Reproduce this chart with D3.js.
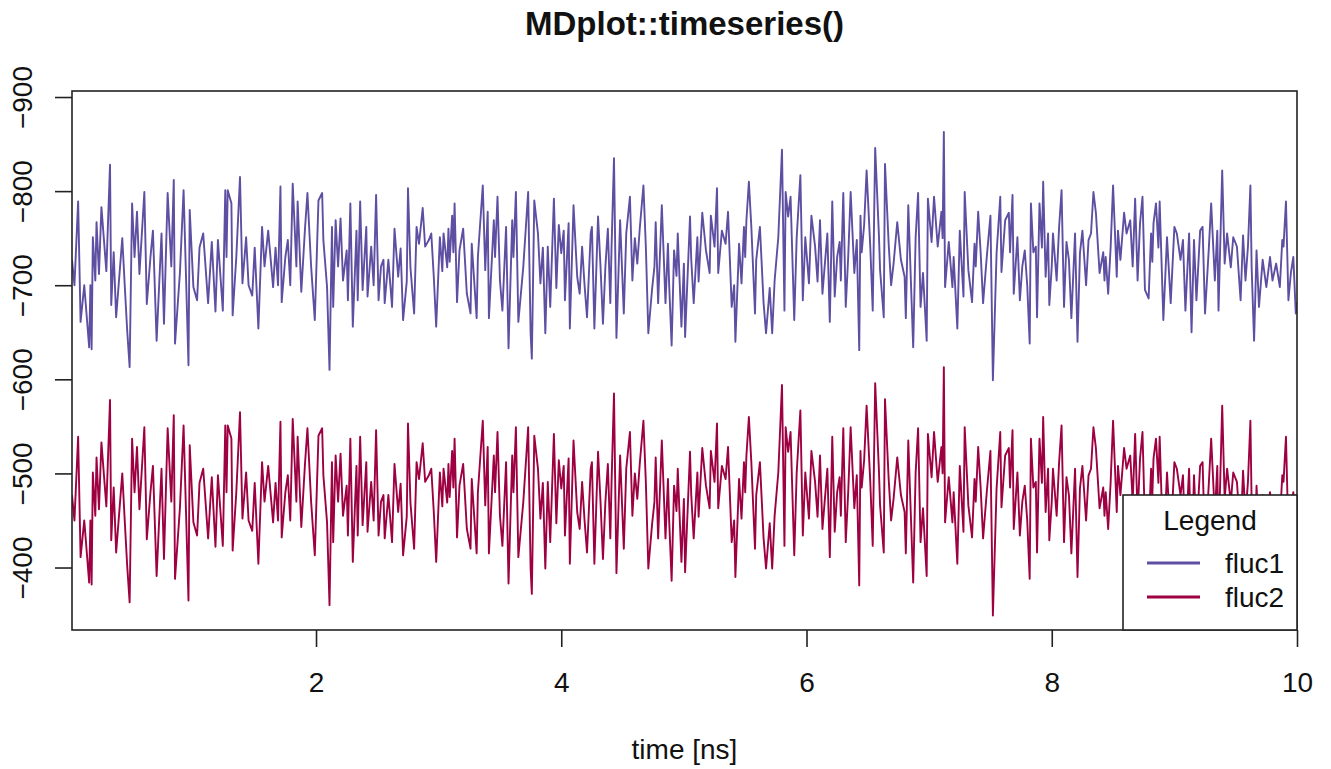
<!DOCTYPE html>
<html>
<head>
	<meta charset="utf-8">
	<title>MDplot::timeseries()</title>
	<script type="text/javascript" src="https://cdn.jsdelivr.net/npm/d3@7/dist/d3.min.js"></script>
	<style>
		body { margin: 0; background: #fff; }
		text { font-family: "Liberation Sans", Arial, Helvetica, sans-serif; fill: #111; }
	</style>
</head>
<body>
	<div id="chart"></div>
	<script type="text/javascript">
		// time axis [ns], shared by both series
		var time = [
			0.01,0.03,0.06,0.08,0.11,0.15,0.16,0.17,0.18,0.20,
			0.21,0.23,0.25,0.29,0.32,0.33,0.35,0.37,0.42,0.44,
			0.46,0.48,0.50,0.52,0.54,0.56,0.60,0.62,0.65,0.67,
			0.70,0.74,0.76,0.79,0.82,0.84,0.85,0.89,0.92,0.96,
			0.97,1.00,1.03,1.05,1.08,1.12,1.15,1.18,1.20,1.24,
			1.26,1.27,1.28,1.31,1.32,1.35,1.38,1.40,1.43,1.45,
			1.48,1.50,1.53,1.56,1.58,1.61,1.65,1.67,1.69,1.71,
			1.72,1.75,1.77,1.79,1.81,1.84,1.85,1.88,1.91,1.93,
			1.96,1.99,2.02,2.05,2.06,2.09,2.11,2.13,2.14,2.16,
			2.18,2.20,2.22,2.25,2.26,2.28,2.30,2.33,2.34,2.36,
			2.38,2.41,2.42,2.45,2.47,2.49,2.51,2.53,2.55,2.56,
			2.59,2.62,2.64,2.67,2.69,2.71,2.74,2.75,2.77,2.80,
			2.82,2.84,2.87,2.89,2.92,2.94,2.96,2.98,3.01,3.03,
			3.04,3.07,3.08,3.09,3.11,3.12,3.13,3.15,3.17,3.20,
			3.23,3.26,3.27,3.31,3.32,3.36,3.38,3.40,3.41,3.45,
			3.46,3.48,3.50,3.52,3.55,3.57,3.60,3.61,3.63,3.65,
			3.69,3.73,3.75,3.76,3.78,3.81,3.83,3.85,3.87,3.89,
			3.91,3.94,3.96,3.98,4.00,4.02,4.03,4.06,4.07,4.10,
			4.13,4.15,4.17,4.19,4.21,4.24,4.25,4.27,4.30,4.32,
			4.34,4.36,4.38,4.40,4.41,4.43,4.45,4.48,4.51,4.53,
			4.56,4.58,4.60,4.62,4.64,4.67,4.69,4.71,4.74,4.76,
			4.77,4.79,4.82,4.85,4.87,4.88,4.90,4.92,4.94,4.95,
			4.98,5.00,5.01,5.05,5.06,5.08,5.11,5.12,5.15,5.18,
			5.21,5.22,5.25,5.27,5.28,5.31,5.34,5.36,5.39,5.41,
			5.42,5.45,5.47,5.49,5.50,5.51,5.53,5.55,5.58,5.59,
			5.62,5.65,5.67,5.70,5.72,5.74,5.77,5.80,5.82,5.83,
			5.85,5.87,5.90,5.92,5.95,5.97,5.99,6.02,6.04,6.07,
			6.09,6.11,6.13,6.17,6.19,6.21,6.23,6.25,6.27,6.28,
			6.30,6.32,6.34,6.36,6.39,6.41,6.43,6.44,6.45,6.47,
			6.49,6.52,6.54,6.56,6.59,6.60,6.63,6.64,6.67,6.69,
			6.71,6.74,6.77,6.80,6.81,6.83,6.85,6.87,6.89,6.91,
			6.93,6.95,6.98,6.99,7.02,7.04,7.07,7.10,7.11,7.12,
			7.13,7.16,7.19,7.20,7.23,7.25,7.28,7.29,7.32,7.35,
			7.37,7.38,7.40,7.42,7.44,7.47,7.50,7.52,7.55,7.58,
			7.59,7.62,7.65,7.66,7.68,7.69,7.72,7.74,7.76,7.78,
			7.80,7.82,7.83,7.85,7.87,7.88,7.90,7.92,7.93,7.95,
			7.97,7.98,8.00,8.01,8.04,8.06,8.08,8.10,8.12,8.14,
			8.16,8.19,8.21,8.23,8.25,8.28,8.30,8.32,8.34,8.36,
			8.39,8.42,8.43,8.44,8.46,8.48,8.50,8.53,8.54,8.56,
			8.59,8.61,8.64,8.66,8.68,8.70,8.72,8.74,8.76,8.79,
			8.81,8.82,8.83,8.85,8.87,8.88,8.91,8.94,8.97,9.00,
			9.02,9.05,9.07,9.09,9.12,9.14,9.16,9.18,9.21,9.23,
			9.25,9.28,9.30,9.33,9.35,9.36,9.39,9.41,9.43,9.46,
			9.48,9.51,9.54,9.56,9.58,9.60,9.62,9.63,9.65,9.67,
			9.69,9.72,9.75,9.78,9.80,9.83,9.86,9.88,9.89,9.91,
			9.93,9.95,9.97,9.99,10.00
		];
		var fluc1 = [
			-727,-700,-789,-661,-700,-634,-700,-632,-751,-705,
			-767,-712,-783,-715,-828,-679,-735,-666,-750,-700,
			-652,-613,-787,-730,-778,-712,-799,-680,-730,-758,
			-641,-755,-659,-798,-720,-812,-638,-713,-801,-615,
			-780,-698,-684,-740,-755,-681,-746,-672,-748,-673,
			-801,-730,-801,-787,-668,-730,-815,-702,-751,-700,
			-689,-740,-654,-762,-720,-758,-698,-740,-700,-805,
			-682,-730,-748,-700,-808,-720,-789,-693,-760,-798,
			-720,-663,-790,-798,-748,-698,-610,-762,-677,-769,
			-720,-771,-705,-737,-684,-787,-656,-758,-684,-789,
			-695,-762,-688,-741,-700,-796,-684,-720,-727,-681,
			-727,-677,-760,-709,-739,-663,-704,-803,-719,-670,
			-762,-744,-782,-741,-748,-755,-710,-656,-751,-715,
			-755,-719,-760,-725,-774,-735,-787,-682,-737,-760,
			-691,-670,-744,-665,-730,-806,-716,-778,-665,-769,
			-730,-794,-705,-673,-762,-633,-769,-730,-799,-661,
			-719,-799,-649,-622,-790,-755,-702,-740,-649,-741,
			-677,-792,-697,-764,-734,-758,-684,-766,-654,-785,
			-709,-691,-741,-700,-666,-755,-762,-654,-773,-720,
			-659,-720,-760,-681,-740,-835,-644,-769,-670,-755,
			-794,-705,-750,-723,-760,-806,-740,-649,-695,-720,
			-767,-681,-785,-681,-744,-700,-636,-737,-710,-755,
			-656,-723,-645,-773,-727,-681,-751,-704,-777,-737,
			-713,-774,-741,-803,-713,-758,-744,-778,-677,-700,
			-640,-744,-702,-762,-730,-769,-810,-762,-670,-727,
			-762,-681,-649,-697,-649,-705,-751,-844,-673,-799,
			-773,-794,-663,-751,-817,-684,-751,-702,-774,-741,
			-704,-769,-691,-755,-661,-789,-688,-730,-746,-705,
			-798,-677,-730,-799,-713,-748,-631,-774,-735,-764,
			-822,-741,-673,-846,-755,-716,-666,-829,-744,-700,
			-723,-767,-727,-709,-665,-785,-709,-634,-751,-798,
			-677,-713,-641,-792,-746,-794,-741,-778,-750,-863,
			-698,-746,-698,-730,-654,-758,-688,-799,-716,-682,
			-744,-720,-778,-735,-681,-730,-774,-599,-734,-794,
			-714,-769,-777,-735,-796,-691,-751,-684,-720,-737,
			-700,-638,-787,-735,-741,-666,-787,-740,-810,-709,
			-755,-679,-720,-755,-705,-762,-801,-677,-746,-727,
			-665,-755,-640,-734,-758,-700,-748,-755,-799,-777,
			-713,-735,-705,-730,-691,-740,-806,-709,-758,-727,
			-777,-755,-769,-720,-792,-705,-766,-794,-695,-686,
			-755,-725,-766,-787,-740,-789,-663,-751,-681,-762,
			-755,-727,-748,-673,-755,-650,-748,-684,-758,-762,
			-670,-737,-787,-705,-758,-673,-822,-723,-755,-719,
			-751,-741,-684,-753,-705,-741,-806,-719,-641,-737,
			-677,-727,-698,-730,-705,-723,-698,-748,-741,-789,
			-684,-713,-730,-670,-682
		];
		var fluc2 = [
			-477,-450,-539,-411,-450,-384,-450,-382,-501,-455,
			-517,-462,-533,-465,-578,-429,-485,-416,-500,-450,
			-402,-363,-537,-480,-528,-462,-549,-430,-480,-508,
			-391,-505,-409,-548,-470,-562,-388,-463,-551,-365,
			-530,-448,-434,-490,-505,-431,-496,-422,-498,-423,
			-551,-480,-551,-537,-418,-480,-565,-452,-501,-450,
			-439,-490,-404,-512,-470,-508,-448,-490,-450,-555,
			-432,-480,-498,-450,-558,-470,-539,-443,-510,-548,
			-470,-413,-540,-548,-498,-448,-360,-512,-427,-519,
			-470,-521,-455,-487,-434,-537,-406,-508,-434,-539,
			-445,-512,-438,-491,-450,-546,-434,-470,-477,-431,
			-477,-427,-510,-459,-489,-413,-454,-553,-469,-420,
			-512,-494,-532,-491,-498,-505,-460,-406,-501,-465,
			-505,-469,-510,-475,-524,-485,-537,-432,-487,-510,
			-441,-420,-494,-415,-480,-556,-466,-528,-415,-519,
			-480,-544,-455,-423,-512,-383,-519,-480,-549,-411,
			-469,-549,-399,-372,-540,-505,-452,-490,-399,-491,
			-427,-542,-447,-514,-484,-508,-434,-516,-404,-535,
			-459,-441,-491,-450,-416,-505,-512,-404,-523,-470,
			-409,-470,-510,-431,-490,-585,-394,-519,-420,-505,
			-544,-455,-500,-473,-510,-556,-490,-399,-445,-470,
			-517,-431,-535,-431,-494,-450,-386,-487,-460,-505,
			-406,-473,-395,-523,-477,-431,-501,-454,-527,-487,
			-463,-524,-491,-553,-463,-508,-494,-528,-427,-450,
			-390,-494,-452,-512,-480,-519,-560,-512,-420,-477,
			-512,-431,-399,-447,-399,-455,-501,-594,-423,-549,
			-523,-544,-413,-501,-567,-434,-501,-452,-524,-491,
			-454,-519,-441,-505,-411,-539,-438,-480,-496,-455,
			-548,-427,-480,-549,-463,-498,-381,-524,-485,-514,
			-572,-491,-423,-596,-505,-466,-416,-579,-494,-450,
			-473,-517,-477,-459,-415,-535,-459,-384,-501,-548,
			-427,-463,-391,-542,-496,-544,-491,-528,-500,-613,
			-448,-496,-448,-480,-404,-508,-438,-549,-466,-432,
			-494,-470,-528,-485,-431,-480,-524,-349,-484,-544,
			-464,-519,-527,-485,-546,-441,-501,-434,-470,-487,
			-450,-388,-537,-485,-491,-416,-537,-490,-560,-459,
			-505,-429,-470,-505,-455,-512,-551,-427,-496,-477,
			-415,-505,-390,-484,-508,-450,-498,-505,-549,-527,
			-463,-485,-455,-480,-441,-490,-556,-459,-508,-477,
			-527,-505,-519,-470,-542,-455,-516,-544,-445,-436,
			-505,-475,-516,-537,-490,-539,-413,-501,-431,-512,
			-505,-477,-498,-423,-505,-400,-498,-434,-508,-512,
			-420,-487,-537,-455,-508,-423,-572,-473,-505,-469,
			-501,-491,-434,-503,-455,-491,-556,-469,-391,-487,
			-427,-477,-448,-480,-455,-473,-448,-498,-491,-539,
			-434,-463,-480,-420,-432
		];
		var seriesNames = ["fluc1", "fluc2"];
		var seriesColors = ["#5E4FA2", "#9E0142"];
		var xTicks = [2, 4, 6, 8, 10];
		var yTicks = [-900, -800, -700, -600, -500, -400];

		(function() {
			var width = 1331, height = 769;
			var pLeft = 72, pRight = 1297, pTop = 91, pBottom = 630;
			var axisColor = "#222";

			var svg = d3.select("#chart").append("svg")
				.attr("width", width)
				.attr("height", height)
				.style("background", "#fff");

			var x = d3.scaleLinear().domain([0.01, 10]).range([pLeft, pRight]);
			// y runs the "wrong" way round, as in the original (most negative on top)
			var y = d3.scaleLinear().domain([-906.4, -333.6]).range([pTop, pBottom]);

			svg.append("defs").append("clipPath").attr("id", "plotclip")
				.append("rect")
				.attr("x", pLeft).attr("y", pTop)
				.attr("width", pRight - pLeft).attr("height", pBottom - pTop);

			var line = d3.line()
				.x(function(d) { return x(d[0]); })
				.y(function(d) { return y(d[1]); });

			var series = [fluc1, fluc2].map(function(vals, k) {
				return {
					name: seriesNames[k],
					color: seriesColors[k],
					points: vals.map(function(v, i) { return [time[i], v]; })
				};
			});

			svg.append("g").attr("clip-path", "url(#plotclip)")
				.selectAll("path")
				.data(series)
				.enter()
				.append("path")
				.attr("d", function(d) { return line(d.points); })
				.attr("fill", "none")
				.attr("stroke", function(d) { return d.color; })
				.attr("stroke-width", 1.9)
				.attr("stroke-linejoin", "round");

			// x axis
			var xAxis = svg.append("g")
				.attr("transform", "translate(0," + pBottom + ")")
				.call(d3.axisBottom(x).tickValues(xTicks).tickSize(17).tickFormat(d3.format("d")));
			xAxis.select(".domain").remove();
			xAxis.selectAll(".tick line").attr("stroke", axisColor).attr("stroke-width", 1.6);
			xAxis.selectAll(".tick text")
				.attr("font-size", 28)
				.attr("font-family", "Liberation Sans, Arial, sans-serif")
				.attr("fill", "#111")
				.attr("dy", null)
				.attr("y", 62);

			// y axis, labels turned to read upwards
			var yAxis = svg.append("g")
				.attr("transform", "translate(" + pLeft + ",0)")
				.call(d3.axisLeft(y).tickValues(yTicks).tickSize(17).tickFormat(function(d) { return "\u2212" + Math.abs(d); }));
			yAxis.select(".domain").remove();
			yAxis.selectAll(".tick line").attr("stroke", axisColor).attr("stroke-width", 1.6);
			yAxis.selectAll(".tick text")
				.attr("font-size", 28)
				.attr("font-family", "Liberation Sans, Arial, sans-serif")
				.attr("fill", "#111")
				.attr("x", null).attr("dy", null)
				.attr("text-anchor", "middle")
				.attr("transform", "translate(-40,0) rotate(-90)");

			// plot box
			svg.append("rect")
				.attr("x", pLeft).attr("y", pTop)
				.attr("width", pRight - pLeft).attr("height", pBottom - pTop)
				.attr("fill", "none")
				.attr("stroke", axisColor)
				.attr("stroke-width", 1.6);

			// title and axis label
			svg.append("text")
				.attr("x", (pLeft + pRight) / 2).attr("y", 35)
				.attr("text-anchor", "middle")
				.attr("font-size", 33)
				.attr("font-weight", "bold")
				.text("MDplot::timeseries()");

			svg.append("text")
				.attr("x", (pLeft + pRight) / 2).attr("y", 759)
				.attr("text-anchor", "middle")
				.attr("font-size", 28)
				.text("time [ns]");

			// legend
			var lgLeft = 1123, lgTop = 495;
			var lg = svg.append("g");
			lg.append("rect")
				.attr("x", lgLeft).attr("y", lgTop)
				.attr("width", pRight - lgLeft).attr("height", pBottom - lgTop)
				.attr("fill", "#fff")
				.attr("stroke", axisColor)
				.attr("stroke-width", 1.6);
			lg.append("text")
				.attr("x", 1210).attr("y", 530)
				.attr("text-anchor", "middle")
				.attr("font-size", 28)
				.text("Legend");
			var items = lg.selectAll("g.item")
				.data(series)
				.enter()
				.append("g")
				.attr("class", "item")
				.attr("transform", function(d, i) { return "translate(0," + (563 + i * 34) + ")"; });
			items.append("line")
				.attr("x1", 1147).attr("x2", 1200)
				.attr("stroke", function(d) { return d.color; })
				.attr("stroke-width", 3);
			items.append("text")
				.attr("x", 1225).attr("y", 10)
				.attr("font-size", 28)
				.text(function(d) { return d.name; });
		})();
	</script>
</body>
</html>
